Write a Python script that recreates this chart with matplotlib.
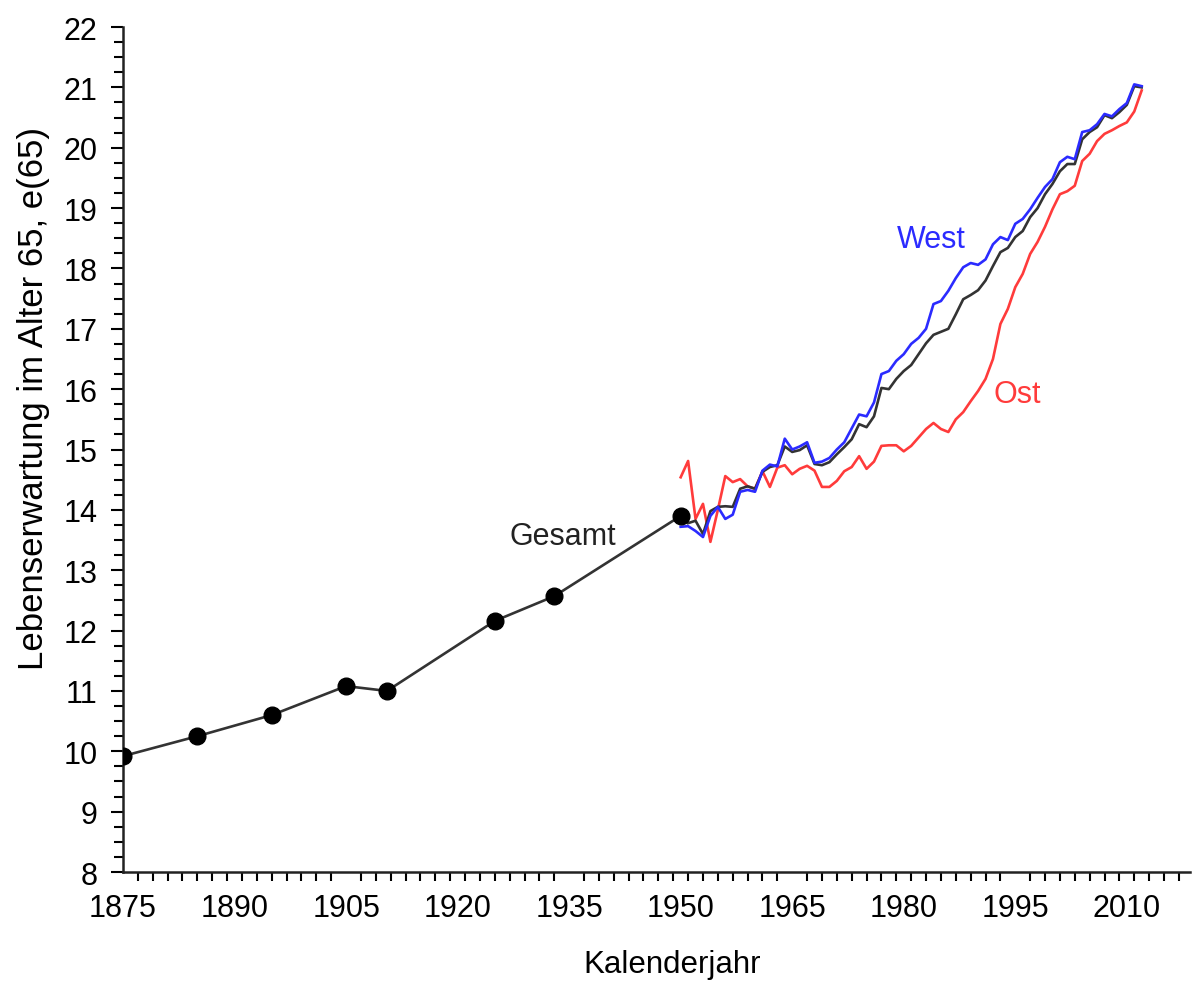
import numpy as np
import matplotlib.pyplot as plt
from matplotlib.ticker import FixedLocator, MultipleLocator, NullFormatter

# ---- data ----
# life table periods (Gesamt, markers)
gesamt_years = [1875, 1885, 1895, 1905, 1910.5, 1925, 1933, 1950]
gesamt_e65 = [9.92, 10.25, 10.60, 11.08, 11.00, 12.16, 12.57, 13.90]

# annual series
west_years = list(range(1950, 2013))
west_e65 = [13.72, 13.73, 13.65, 13.55, 13.90, 14.05, 13.85, 13.92, 14.30, 14.33,
            14.30, 14.65, 14.75, 14.72, 15.18, 15.00, 15.05, 15.12, 14.78, 14.80,
            14.86, 15.00, 15.12, 15.35, 15.58, 15.55, 15.78, 16.25, 16.30, 16.47,
            16.58, 16.75, 16.85, 17.00, 17.41, 17.46, 17.63, 17.84, 18.02, 18.09,
            18.06, 18.15, 18.40, 18.52, 18.47, 18.74, 18.82, 18.98, 19.17, 19.35,
            19.48, 19.76, 19.85, 19.81, 20.26, 20.29, 20.39, 20.56, 20.52, 20.64,
            20.74, 21.05, 21.02]

gesamt_ann_years = list(range(1951, 2013))
gesamt_ann_e65 = [13.78, 13.82, 13.60, 13.98, 14.05, 14.06, 14.05, 14.35, 14.39,
                  14.35, 14.63, 14.71, 14.74, 15.05, 14.96, 14.99, 15.07, 14.76, 14.74,
                  14.79, 14.92, 15.04, 15.17, 15.42, 15.37, 15.55, 16.02, 16.00, 16.17,
                  16.30, 16.40, 16.58, 16.76, 16.90, 16.95, 17.00, 17.24, 17.49, 17.56,
                  17.64, 17.80, 18.04, 18.27, 18.34, 18.52, 18.62, 18.85, 19.00, 19.23,
                  19.40, 19.61, 19.73, 19.73, 20.14, 20.26, 20.34, 20.54, 20.49, 20.59,
                  20.71, 21.02, 21.00]

ost_years = list(range(1950, 2013))
ost_e65 = [14.54, 14.81, 13.85, 14.10, 13.47, 14.00, 14.56, 14.46, 14.51, 14.39,
           14.35, 14.64, 14.38, 14.70, 14.74, 14.59, 14.68, 14.73, 14.65, 14.38,
           14.38, 14.48, 14.64, 14.71, 14.89, 14.68, 14.80, 15.06, 15.07, 15.07,
           14.97, 15.06, 15.20, 15.34, 15.44, 15.34, 15.29, 15.50, 15.62, 15.80,
           15.97, 16.17, 16.50, 17.08, 17.33, 17.69, 17.91, 18.24, 18.44, 18.69,
           18.98, 19.23, 19.28, 19.37, 19.78, 19.90, 20.11, 20.23, 20.29, 20.36,
           20.42, 20.60, 20.95]

x_labels = [1875, 1890, 1905, 1920, 1935, 1950, 1965, 1980, 1995, 2010]

plt.rcParams['font.family'] = ['Liberation Sans', 'DejaVu Sans']

fig = plt.figure(figsize=(11.93, 9.87), dpi=100)
ax = fig.add_axes([0.1031, 0.1155, 0.8944, 0.8561])

blue = "#2b2bff"
red = "#ff3b3b"
dark = "#333333"

ax.plot(gesamt_years, gesamt_e65, color=dark, lw=1.9, marker="o", ms=12,
        mfc="black", mec="black", zorder=4)
ax.plot(ost_years, ost_e65, color=red, lw=1.9, zorder=2)
ax.plot(gesamt_ann_years, gesamt_ann_e65, color=dark, lw=1.9, zorder=3)
ax.plot(west_years, west_e65, color=blue, lw=1.9, zorder=3)

ax.text(1983.7, 18.49, "West", color=blue, fontsize=22, ha="center", va="center")
ax.text(1995.3, 15.92, "Ost", color=red, fontsize=22, ha="center", va="center")
ax.text(1934.1, 13.57, "Gesamt", color="#222222", fontsize=22, ha="center", va="center")

ax.set_xlim(1875, 2018.5)
ax.set_ylim(8, 22)

ax.xaxis.set_major_locator(FixedLocator(x_labels))
ax.xaxis.set_minor_locator(FixedLocator(np.arange(1875, 2019, 2)))
ax.yaxis.set_major_locator(MultipleLocator(1))
ax.yaxis.set_minor_locator(MultipleLocator(0.25))
ax.yaxis.set_minor_formatter(NullFormatter())

ax.tick_params(axis="x", which="major", length=0, pad=15, labelsize=22)
ax.tick_params(axis="x", which="minor", length=6.5, width=1.5, direction="out")
ax.tick_params(axis="y", which="major", length=8.5, width=1.5, pad=10, labelsize=22)
ax.tick_params(axis="y", which="minor", length=6.5, width=1.5)

for s in ["top", "right"]:
    ax.spines[s].set_visible(False)
for s in ["left", "bottom"]:
    ax.spines[s].set_linewidth(1.8)
    ax.spines[s].set_color("#222222")

ax.set_xlabel("Kalenderjahr", fontsize=22.5)
ax.xaxis.set_label_coords((672 - 123) / 1067, -(950 - 873) / 845)
ax.set_ylabel("Lebenserwartung im Alter 65, e(65)", fontsize=25)
ax.yaxis.set_label_coords(-(123 - 50) / 1067, (873 - 398) / 845)

fig.savefig("out.png", dpi=100)
